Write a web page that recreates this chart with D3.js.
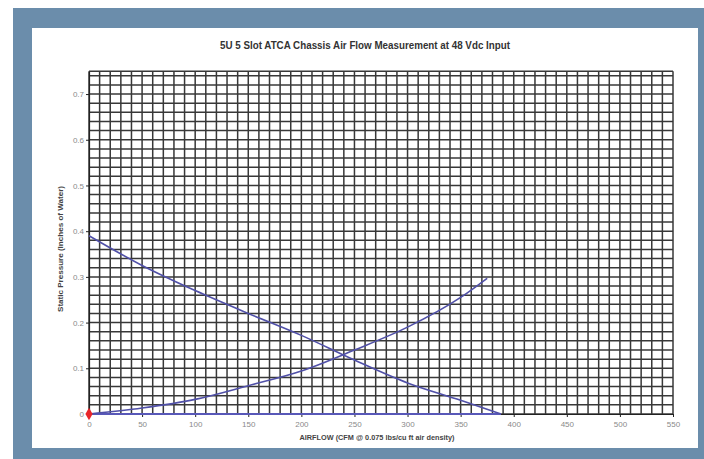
<!DOCTYPE html>
<html>
<head>
<meta charset="utf-8">
<script src="https://cdn.jsdelivr.net/npm/d3@7"></script>
<style>
  html, body { margin: 0; padding: 0; background: #ffffff; }
  svg { display: block; }
  text { font-family: "Liberation Sans", Arial, sans-serif; }
</style>
</head>
<body>
<svg id="chart" width="704" height="459"></svg>
<script>
// ---- data ----
const title = "5U 5 Slot ATCA Chassis Air Flow Measurement at 48 Vdc Input";
const xTitle = "AIRFLOW (CFM @ 0.075 lbs/cu ft air density)";
const yTitle = "Static Pressure (Inches of Water)";
const xTicks = [0, 50, 100, 150, 200, 250, 300, 350, 400, 450, 500, 550];
const yTicks = [0, 0.1, 0.2, 0.3, 0.4, 0.5, 0.6, 0.7];
// chassis (fan) curve
const fanFlow = [0, 50, 100, 150, 200, 250, 300, 350, 388];
const fanPressure = [0.39, 0.325, 0.27, 0.22, 0.172, 0.118, 0.068, 0.03, 0];
// system impedance curve
const sysFlow = [0, 50, 100, 150, 200, 250, 300, 350, 375];
const sysPressure = [0, 0.013, 0.032, 0.062, 0.094, 0.14, 0.19, 0.255, 0.297];
// baseline series
const baseFlow = [0, 388];
const basePressure = [0, 0];
// operating point marker
const markerFlow = [0];
const markerPressure = [0];

// ---- drawing ----
const svg = d3.select("#chart");
svg.append("rect").attr("x", 0).attr("y", 0).attr("width", 704).attr("height", 459).attr("fill", "#ffffff");
svg.append("rect").attr("x", 13).attr("y", 8).attr("width", 691).attr("height", 451).attr("fill", "#6b8dab");
svg.append("rect").attr("x", 32).attr("y", 28).attr("width", 666).attr("height", 420).attr("fill", "#ffffff");

const x = d3.scaleLinear().domain([0, 550]).range([89, 673]);
const y = d3.scaleLinear().domain([0, 0.75]).range([414, 71.2]);

const grid = svg.append("g");
d3.range(0, 551, 10).forEach(v => {
  grid.append("line")
    .attr("x1", x(v)).attr("x2", x(v))
    .attr("y1", y(0)).attr("y2", y(0.75))
    .attr("stroke", "#383838").attr("stroke-width", 1.5);
});
d3.range(0, 38).map(i => i * 0.02).concat([0.75]).forEach(v => {
  grid.append("line")
    .attr("x1", x(0)).attr("x2", x(550))
    .attr("y1", y(v)).attr("y2", y(v))
    .attr("stroke", "#383838").attr("stroke-width", 1.5);
});

// axes
const xAxis = svg.append("g").attr("transform", `translate(0,${y(0)})`)
  .call(d3.axisBottom(x).tickValues(xTicks).tickSize(3).tickSizeOuter(0).tickFormat(d3.format("d")));
const yAxis = svg.append("g").attr("transform", `translate(${x(0)},0)`)
  .call(d3.axisLeft(y).tickValues(yTicks).tickSize(3).tickSizeOuter(0).tickFormat(d => d === 0 ? "0" : d3.format(".1f")(d)));
[xAxis, yAxis].forEach(a => {
  a.select(".domain").attr("stroke", "#222").attr("stroke-width", 1.2);
  a.selectAll(".tick line").attr("stroke", "#222");
  a.selectAll(".tick text").attr("fill", "#8a8a8a").attr("font-size", 8)
    .attr("font-family", "Liberation Sans, Arial, sans-serif");
});
xAxis.selectAll(".tick text").attr("dy", "0.71em").attr("y", 7);
yAxis.selectAll(".tick text").attr("x", -5);

// series
const line = d3.line().x(d => x(d[0])).y(d => y(d[1])).curve(d3.curveMonotoneX);
svg.append("path").datum(baseFlow.map((f, i) => [f, basePressure[i]]))
  .attr("d", line).attr("fill", "none").attr("stroke", "#5858b8").attr("stroke-width", 1.8);
svg.append("path").datum(fanFlow.map((f, i) => [f, fanPressure[i]]))
  .attr("d", line).attr("fill", "none").attr("stroke", "#5050a8").attr("stroke-width", 1.6);
svg.append("path").datum(sysFlow.map((f, i) => [f, sysPressure[i]]))
  .attr("d", line).attr("fill", "none").attr("stroke", "#5050a8").attr("stroke-width", 1.6);
svg.selectAll(".marker").data(markerFlow.map((f, i) => [f, markerPressure[i]])).enter()
  .append("path").attr("class", "marker")
  .attr("d", d3.symbol(d3.symbolDiamond, 45))
  .attr("transform", d => `translate(${x(d[0])},${y(d[1])})`)
  .attr("fill", "#e8262a");

// titles
svg.append("text").attr("x", 365).attr("y", 49).attr("text-anchor", "middle")
  .attr("font-size", 10).attr("font-weight", "bold").attr("fill", "#333")
  .attr("textLength", 290).attr("lengthAdjust", "spacingAndGlyphs").text(title);
svg.append("text").attr("x", 377).attr("y", 440).attr("text-anchor", "middle")
  .attr("font-size", 7.5).attr("font-weight", "bold").attr("fill", "#444")
  .attr("textLength", 155).attr("lengthAdjust", "spacingAndGlyphs").text(xTitle);
svg.append("text").attr("transform", "translate(63,249) rotate(-90)").attr("text-anchor", "middle")
  .attr("font-size", 7.5).attr("font-weight", "bold").attr("fill", "#444")
  .attr("textLength", 126).attr("lengthAdjust", "spacingAndGlyphs").text(yTitle);
</script>
</body>
</html>
